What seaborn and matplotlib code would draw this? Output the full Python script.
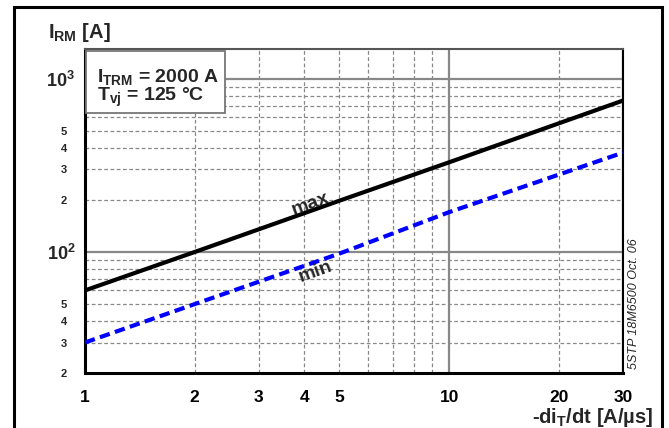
import matplotlib
matplotlib.use("Agg")
import matplotlib.pyplot as plt
import matplotlib.ticker as mticker
from matplotlib.patches import Rectangle
import seaborn as sns

# data (5STP 18M6500)
di_dt = [1, 2, 5, 10, 30]            # -diT/dt [A/us]
irm_max = [60, 100, 198, 330, 750]   # I_RM max [A]
irm_min = [30, 50, 98, 170, 375]     # I_RM min [A]

x_major = [1, 10, 30]
x_major_labels = ["1", "10", "30"]
x_minor = [2, 3, 4, 5, 20]
x_minor_labels = ["2", "3", "4", "5", "20"]
y_major = [100, 1000]
y_major_labels = [r"$\mathbf{10^2}$", r"$\mathbf{10^3}$"]
y_minor = [20, 30, 40, 50, 200, 300, 400, 500]
y_minor_labels = ["2", "3", "4", "5", "2", "3", "4", "5"]
x_extra_grid = [6, 7, 8, 9]
y_extra_grid = [60, 70, 80, 90, 600, 700, 800, 900]

sns.set_style("white")
plt.rcParams["font.family"] = ["Liberation Sans", "DejaVu Sans"]
plt.rcParams["font.weight"] = "bold"
plt.rcParams["mathtext.fontset"] = "custom"
plt.rcParams["mathtext.rm"] = "Liberation Sans:bold"
plt.rcParams["mathtext.bf"] = "Liberation Sans:bold"
plt.rcParams["mathtext.it"] = "Liberation Sans:bold"

fig = plt.figure(figsize=(6.69, 4.28), dpi=100)
ax = fig.add_axes([0.127, 0.1285, 0.804, 0.757])

# outer frame
fig.patches.append(Rectangle((0.021, -0.02), 0.968, 1.0036, transform=fig.transFigure,
                             fill=False, edgecolor="black", linewidth=2.2))

ax.set_xscale("log")
ax.set_yscale("log")

grid_c = "#888888"
dash = (0, (3, 2))
ax.xaxis.set_major_locator(mticker.FixedLocator(x_major))
ax.yaxis.set_major_locator(mticker.FixedLocator(y_major))
ax.xaxis.set_minor_locator(mticker.FixedLocator(x_minor))
ax.yaxis.set_minor_locator(mticker.FixedLocator(y_minor))
ax.xaxis.set_major_formatter(mticker.FixedFormatter(x_major_labels))
ax.xaxis.set_minor_formatter(mticker.FixedFormatter(x_minor_labels))
ax.yaxis.set_major_formatter(mticker.FixedFormatter(y_major_labels))
ax.yaxis.set_minor_formatter(mticker.FixedFormatter(y_minor_labels))
ax.set_xlim(1, 30)
ax.set_ylim(20, 1490)

ax.grid(which="major", color=grid_c, linewidth=1.6, linestyle="-")
ax.grid(which="minor", color=grid_c, linewidth=0.9, linestyle=dash)
for v in x_extra_grid:
    ax.axvline(v, color=grid_c, linewidth=0.9, linestyle=dash, zorder=0.5)
for v in y_extra_grid:
    ax.axhline(v, color=grid_c, linewidth=0.9, linestyle=dash, zorder=0.5)
ax.set_axisbelow(True)

ax.tick_params(axis="x", which="both", direction="out", length=4, width=1.2,
               labelsize=12.5, pad=8, colors="black")
ax.tick_params(axis="y", which="major", direction="out", length=4, width=1.2,
               labelsize=13, pad=3)
ax.tick_params(axis="y", which="minor", direction="out", length=4, width=1.2,
               labelsize=8, pad=9)
for lab in ax.get_xticklabels(which="both") + ax.get_yticklabels(which="both"):
    lab.set_fontweight("bold")

for side in ["left", "bottom"]:
    ax.spines[side].set_color("black")
    ax.spines[side].set_linewidth(2.2)
ax.spines["right"].set_color("black")
ax.spines["right"].set_linewidth(1.5)
ax.spines["top"].set_color("#555555")
ax.spines["top"].set_linewidth(1.5)

# curves
sns.lineplot(x=di_dt, y=irm_max, ax=ax, color="black", linewidth=3, zorder=3)
sns.lineplot(x=di_dt, y=irm_min, ax=ax, color="#0000ff", linewidth=3,
             linestyle=(0, (2.5, 1.3)), zorder=3)

ax.text(4.15, 190, "max", rotation=20, rotation_mode="anchor", ha="center",
        va="center", fontsize=14, fontweight="bold")
ax.text(4.3, 77, "min", rotation=20, rotation_mode="anchor", ha="center",
        va="center", fontsize=14, fontweight="bold")

# condition box
ax.add_patch(Rectangle((0.002, 0.802), 0.258, 0.192, transform=ax.transAxes,
                       facecolor="white", edgecolor="#777777", linewidth=1.3, zorder=4))
ax.text(0.022, 0.897, r"I$_\mathregular{TRM}$ = 2000 A", transform=ax.transAxes,
        fontsize=14, fontweight="bold", va="baseline", zorder=5)
ax.text(0.022, 0.838, r"T$_\mathregular{vj}$ = 125 °C", transform=ax.transAxes,
        fontsize=14, fontweight="bold", va="baseline", zorder=5)

# axis titles
fig.text(0.072, 0.912, r"I$_\mathregular{RM}$ [A]", fontsize=14.5, fontweight="bold",
         va="baseline")
fig.text(0.977, 0.012, r"-di$_\mathregular{T}$/dt [A/µs]", fontsize=14.5,
         fontweight="bold", ha="right", va="baseline")
fig.text(0.947, 0.137, "5STP 18M6500 Oct. 06", rotation=90, fontsize=9,
         fontstyle="italic", fontweight="normal", ha="center", va="bottom")

ax.set_xlabel("")
ax.set_ylabel("")
fig.savefig("out.png", dpi=100)
